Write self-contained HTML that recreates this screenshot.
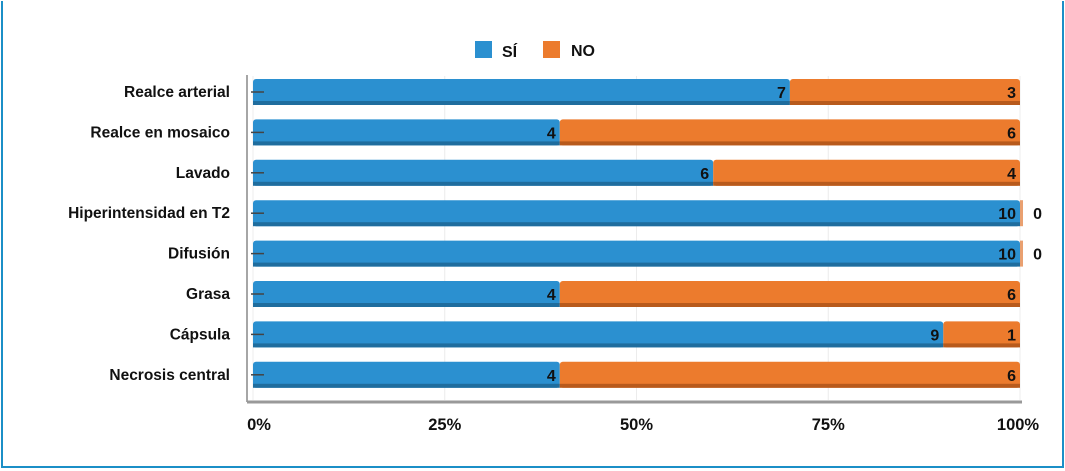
<!DOCTYPE html>
<html><head><meta charset="utf-8">
<style>
body{margin:0;background:#fff;}
#wrap{position:relative;width:1065px;height:471px;overflow:hidden;background:#fff;font-family:"Liberation Sans",sans-serif;}
#frame{position:absolute;left:1px;top:1px;width:1059px;height:465px;border:2px solid #1b8fc7;border-top:none;}
svg text{font-family:"Liberation Sans",sans-serif;font-weight:bold;}
</style></head><body>
<div id="wrap">
<div id="frame"></div>
<svg id="chart" width="1065" height="471" style="position:absolute;left:0;top:0"></svg>
</div>
<script>
const categories=["Realce arterial","Realce en mosaico","Lavado","Hiperintensidad en T2","Difusión","Grasa","Cápsula","Necrosis central"];
const siValues=[7,4,6,10,10,4,9,4];
const noValues=[3,6,4,0,0,6,1,6];
const tickLabels=["0%","25%","50%","75%","100%"];
const tickValues=[0,25,50,75,100];

const NS="http://www.w3.org/2000/svg";
const svg=document.getElementById('chart');
const X0=253,X1=1020,rowTop=92,rowStep=40.4,barH=26;
const xs=p=>X0+(X1-X0)*p/100;
const ys=i=>rowTop+i*rowStep;
function mk(tag,attrs,parent){const e=document.createElementNS(NS,tag);for(const k in attrs)e.setAttribute(k,attrs[k]);(parent||svg).appendChild(e);return e;}

tickValues.forEach((t,i)=>{
  const g=mk('line',{x1:xs(t),x2:xs(t),y1:76,y2:400,stroke:'#ececec','stroke-width':1});
  
  
  const tx=mk('text',{x:xs(t)+(i==0?6:i==4?-2:0),y:430,'text-anchor':'middle','font-size':16.5,fill:'#111'});
  tx.textContent=tickLabels[i];
  
  
});
const ax=mk('line',{x1:247,x2:247,y1:75,y2:402,stroke:'#888','stroke-width':1.5});


const bx=mk('line',{x1:247,x2:1022,y1:402,y2:402,stroke:'#999','stroke-width':3});



categories.forEach((c,i)=>{
  const cy=ys(i),tot=siValues[i]+noValues[i];
  const p1=siValues[i]/tot*100;
  const y=cy-barH/2;
  const lab=mk('text',{x:230,y:cy+5,'text-anchor':'end','font-size':15.5,fill:'#111'});
  lab.textContent=c;
  
  
  const b1=mk('rect',{x:xs(0),y:y,width:xs(p1)-xs(0),height:barH,fill:'#2b90d0',rx:3});
  
  
  mk('rect',{x:xs(0),y:y+barH-4,width:xs(p1)-xs(0),height:4,fill:'#1f6d9e'});
  if(noValues[i]>0){
    const b2=mk('rect',{x:xs(p1),y:y,width:xs(100)-xs(p1),height:barH,fill:'#ec7b2d',rx:3});
    
    
    mk('rect',{x:xs(p1),y:y+barH-4,width:xs(100)-xs(p1),height:4,fill:'#b85a1c'});
  } else {
    mk('rect',{x:xs(100),y:y,width:3,height:barH,fill:'#e9a070'});
  }
  mk('line',{x1:251,x2:264,y1:cy,y2:cy,stroke:'#444','stroke-width':1.5});
  const v1=mk('text',{x:xs(p1)-4,y:cy+6,'text-anchor':'end','font-size':16,fill:'#111'});
  v1.textContent=siValues[i];
  
  
  const v2=mk('text',{x:noValues[i]>0?xs(100)-4:xs(100)+22,y:cy+6,'text-anchor':'end','font-size':16,fill:'#111'});
  v2.textContent=noValues[i];
  
  
});

const l1=mk('rect',{x:475,y:41,width:17,height:17,fill:'#2b90d0'});


const lt1=mk('text',{x:502,y:57,'font-size':16,fill:'#111'});lt1.textContent='SÍ';


const l2=mk('rect',{x:543,y:41,width:17,height:17,fill:'#ec7b2d'});


const lt2=mk('text',{x:571,y:56,'font-size':16,fill:'#111'});lt2.textContent='NO';


</script>
</body></html>
